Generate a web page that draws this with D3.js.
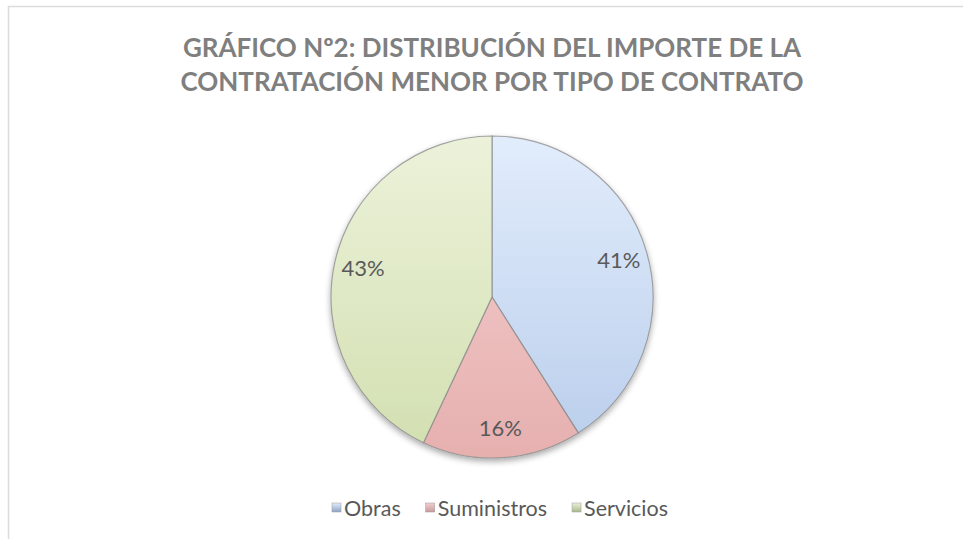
<!DOCTYPE html>
<html>
<head>
<meta charset="utf-8">
<script src="https://cdn.jsdelivr.net/npm/d3@7"></script>
<style>
  body { margin: 0; background: #fff; }
  svg { display: block; font-family: Lato, "Open Sans", sans-serif; }
</style>
</head>
<body>
<svg id="chart"></svg>
<script>
// Data
const categories = ["Obras", "Suministros", "Servicios"];
const values = [41, 16, 43];
const titleLines = ["GRÁFICO Nº2: DISTRIBUCIÓN DEL IMPORTE DE LA", "CONTRATACIÓN MENOR POR TIPO DE CONTRATO"];

// Colors (light top, darker bottom)
const colorsTop = ["#e2edfc", "#f4cfcf", "#ecf2da"];
const colorsBottom = ["#b9cdeb", "#e6b0af", "#d2dfb0"];
const legendColors = ["#8ea4c4", "#c99a9a", "#a9b98a"];

const width = 963, height = 539;
const cx = 492, cy = 297, radius = 161;

const svg = d3.select("#chart")
  .attr("width", width)
  .attr("height", height);

// Chart border
svg.append("rect")
  .attr("x", 8.5)
  .attr("y", 6.5)
  .attr("width", 960)
  .attr("height", 600)
  .attr("fill", "#fff")
  .attr("stroke", "#dcdcdc")
  .attr("stroke-width", 1.5);

// Title
svg.append("g")
  .selectAll("text")
  .data(titleLines)
  .enter()
  .append("text")
  .attr("x", 492)
  .attr("y", (d, i) => 57 + i * 34)
  .attr("text-anchor", "middle")
  .attr("font-size", 26)
  .attr("font-weight", "bold")
  .attr("fill", "#7f7f7f")
  .text(d => d);

const defs = svg.append("defs");

// Gradients per slice (pie group coordinates)
categories.forEach((c, i) => {
  const g = defs.append("linearGradient")
    .attr("id", "grad" + i)
    .attr("gradientUnits", "userSpaceOnUse")
    .attr("x1", 0).attr("y1", -radius)
    .attr("x2", 0).attr("y2", radius);
  g.append("stop").attr("offset", "0%").attr("stop-color", colorsTop[i]);
  g.append("stop").attr("offset", "100%").attr("stop-color", colorsBottom[i]);

  const lg = defs.append("linearGradient")
    .attr("id", "lgrad" + i)
    .attr("x1", "0%").attr("y1", "0%")
    .attr("x2", "0%").attr("y2", "100%");
  lg.append("stop").attr("offset", "0%").attr("stop-color", colorsTop[i]);
  lg.append("stop").attr("offset", "100%").attr("stop-color", legendColors[i]);
});

// Drop shadow
const shadow = defs.append("filter")
  .attr("id", "shadow")
  .attr("x", "-20%").attr("y", "-20%")
  .attr("width", "140%").attr("height", "140%");
shadow.append("feGaussianBlur").attr("in", "SourceAlpha").attr("stdDeviation", 3);
shadow.append("feOffset").attr("dy", 3).attr("result", "blur");
shadow.append("feComponentTransfer")
  .append("feFuncA").attr("type", "linear").attr("slope", 0.35);
const merge = shadow.append("feMerge");
merge.append("feMergeNode");
merge.append("feMergeNode").attr("in", "SourceGraphic");

// Pie
const pie = d3.pie().sort(null).value(d => d);
const arc = d3.arc().innerRadius(0).outerRadius(radius);
const labelArc = d3.arc().innerRadius(radius * 0.82).outerRadius(radius * 0.82);

const pieG = svg.append("g")
  .attr("transform", `translate(${cx}, ${cy})`);

const arcs = pie(values);

pieG.append("g")
  .attr("filter", "url(#shadow)")
  .selectAll("path")
  .data(arcs)
  .enter()
  .append("path")
  .attr("d", arc)
  .attr("fill", (d, i) => `url(#grad${i})`)
  .attr("stroke", "#8a8a8a")
  .attr("stroke-opacity", 0.75)
  .attr("stroke-width", 1.2);

// Percentage labels
pieG.selectAll(".label")
  .data(arcs)
  .enter()
  .append("text")
  .attr("class", "label")
  .attr("transform", d => `translate(${labelArc.centroid(d)})`)
  .attr("text-anchor", "middle")
  .attr("dy", "0.35em")
  .attr("font-size", 22)
  .attr("fill", "#595959")
  .text(d => d.data + "%");

// Legend
const legend = svg.append("g");
const items = legend.selectAll("g")
  .data(categories)
  .enter()
  .append("g");

items.append("rect")
  .attr("width", 9)
  .attr("height", 9)
  .attr("y", -13)
  .attr("fill", (d, i) => `url(#lgrad${i})`)
  .attr("stroke", "#9a9a9a")
  .attr("stroke-width", 0.5);

items.append("text")
  .attr("x", 12)
  .attr("font-size", 21.5)
  .attr("fill", "#595959")
  .text(d => d);

// Lay out legend items side by side, centered
let xPos = 0;
items.each(function () {
  const w = this.getBBox().width;
  d3.select(this).attr("transform", `translate(${xPos}, 0)`);
  xPos += w + 25;
});
const legendWidth = xPos - 25;
legend.attr("transform", `translate(${500 - legendWidth / 2}, 516)`);
</script>
</body>
</html>
